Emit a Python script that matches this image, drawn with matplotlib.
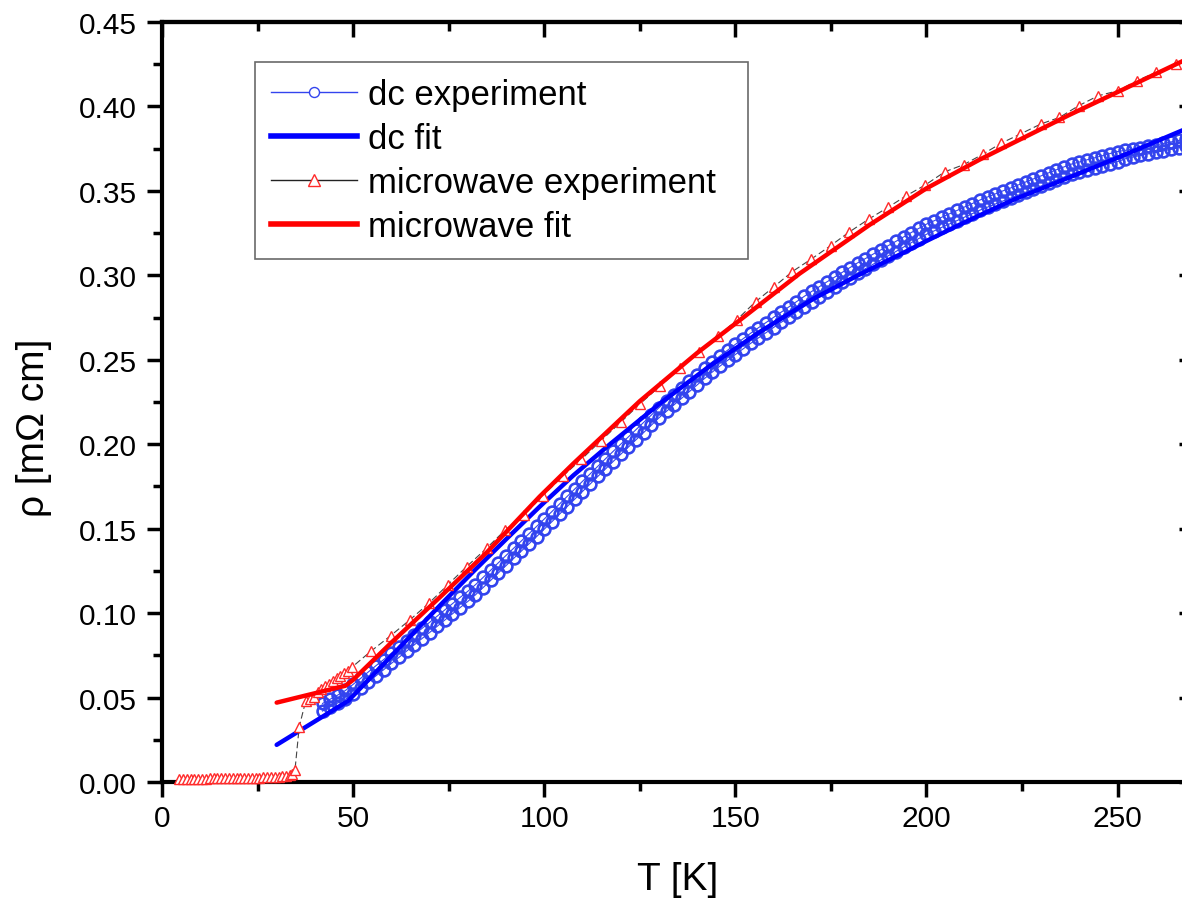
import matplotlib
matplotlib.use('Agg')
import matplotlib.pyplot as plt
from matplotlib.lines import Line2D
from matplotlib.ticker import MultipleLocator

plt.rcParams['font.family'] = ['Liberation Sans', 'DejaVu Sans']

# dc resistivity, two sweeps (mOhm cm)
dc_T = [42, 44, 46, 48, 50, 52, 54, 56, 58, 60, 62, 64, 66, 68, 70, 72, 74, 76, 78, 80,
        82, 84, 86, 88, 90, 92, 94, 96, 98, 100, 102, 104, 106, 108, 110, 112, 114, 116, 118, 120,
        122, 124, 126, 128, 130, 132, 134, 136, 138, 140, 142, 144, 146, 148, 150, 152, 154, 156, 158, 160,
        162, 164, 166, 168, 170, 172, 174, 176, 178, 180, 182, 184, 186, 188, 190, 192, 194, 196, 198, 200,
        202, 204, 206, 208, 210, 212, 214, 216, 218, 220, 222, 224, 226, 228, 230, 232, 234, 236, 238, 240,
        242, 244, 246, 248, 250, 252, 254, 256, 258, 260, 262, 264, 266, 268]
dc_rho_a = [0.0420, 0.0445, 0.0468, 0.0490, 0.0520, 0.0556, 0.0592, 0.0629, 0.0665, 0.0702,
            0.0738, 0.0775, 0.0812, 0.0849, 0.0885, 0.0922, 0.0959, 0.0996, 0.1033, 0.1069,
            0.1108, 0.1151, 0.1194, 0.1238, 0.1281, 0.1324, 0.1367, 0.1410, 0.1453, 0.1497,
            0.1541, 0.1586, 0.1631, 0.1675, 0.1720, 0.1764, 0.1809, 0.1853, 0.1897, 0.1940,
            0.1983, 0.2026, 0.2069, 0.2112, 0.2156, 0.2195, 0.2234, 0.2273, 0.2312, 0.2351,
            0.2390, 0.2428, 0.2463, 0.2497, 0.2531, 0.2564, 0.2597, 0.2629, 0.2660, 0.2691,
            0.2722, 0.2753, 0.2784, 0.2815, 0.2845, 0.2873, 0.2902, 0.2930, 0.2958, 0.2986,
            0.3014, 0.3039, 0.3065, 0.3090, 0.3116, 0.3141, 0.3167, 0.3193, 0.3218, 0.3243,
            0.3263, 0.3284, 0.3304, 0.3324, 0.3345, 0.3365, 0.3386, 0.3404, 0.3422, 0.3440,
            0.3457, 0.3475, 0.3493, 0.3511, 0.3529, 0.3547, 0.3565, 0.3582, 0.3599, 0.3611,
            0.3624, 0.3636, 0.3648, 0.3661, 0.3673, 0.3690, 0.3700, 0.3710, 0.3719, 0.3728,
            0.3737, 0.3746, 0.3755, 0.3763]
dc_rho_b = [0.0465, 0.0490, 0.0515, 0.0542, 0.0578, 0.0614, 0.0652, 0.0689, 0.0725, 0.0762,
            0.0798, 0.0835, 0.0872, 0.0909, 0.0945, 0.0982, 0.1019, 0.1056, 0.1093, 0.1129,
            0.1168, 0.1211, 0.1254, 0.1298, 0.1341, 0.1384, 0.1427, 0.1470, 0.1513, 0.1557,
            0.1601, 0.1646, 0.1691, 0.1735, 0.1780, 0.1824, 0.1869, 0.1913, 0.1957, 0.2000,
            0.2043, 0.2086, 0.2129, 0.2172, 0.2216, 0.2255, 0.2294, 0.2333, 0.2372, 0.2411,
            0.2450, 0.2488, 0.2523, 0.2557, 0.2591, 0.2624, 0.2657, 0.2689, 0.2720, 0.2751,
            0.2782, 0.2813, 0.2844, 0.2875, 0.2905, 0.2933, 0.2962, 0.2990, 0.3018, 0.3046,
            0.3074, 0.3099, 0.3125, 0.3150, 0.3176, 0.3201, 0.3227, 0.3253, 0.3278, 0.3303,
            0.3323, 0.3344, 0.3364, 0.3384, 0.3405, 0.3425, 0.3446, 0.3464, 0.3482, 0.3500,
            0.3517, 0.3535, 0.3553, 0.3571, 0.3589, 0.3607, 0.3625, 0.3642, 0.3659, 0.3671,
            0.3684, 0.3696, 0.3708, 0.3721, 0.3733, 0.3740, 0.3748, 0.3756, 0.3763, 0.3772,
            0.3781, 0.3790, 0.3799, 0.3807]

# dc fit
dcfit_T = [30, 48.7, 60, 72.7, 81.4, 90.1, 98.8, 107.6, 117.2, 130.2, 143.3, 156.4,
           170.3, 182.5, 195, 199.7, 208.7, 213.9, 223, 237.4, 252, 266.7, 270]
dcfit_rho = [0.022, 0.048, 0.0746, 0.1045, 0.1245, 0.1439, 0.1630, 0.1815, 0.2000, 0.2240,
             0.2463, 0.2665, 0.2860, 0.3005, 0.3145, 0.3200, 0.3300, 0.3355, 0.3450, 0.3580,
             0.3715, 0.3856, 0.3885]

# microwave resistivity
mw_T = [4.5, 5.5, 6.5, 7.5, 8.5, 9.5, 10.5, 11.5, 12.5, 13.5, 14.5, 15.5, 16.5, 17.5, 18.5,
        19.5, 20.5, 21.5, 22.5, 23.5, 24.5, 25.5, 26.5, 27.5, 28.5, 29.5, 30.5, 31.5, 32.5,
        33.4, 34.0, 34.8, 35.9, 37.6, 38.7, 39.7, 40.7, 41.7, 42.7, 43.7, 44.7, 45.7, 46.7,
        47.7, 48.7, 49.7, 54.8, 59.8, 64.9, 69.9, 74.7, 79.7, 84.9, 89.8, 94.7, 99.6, 104.8,
        109.7, 114.8, 120.0, 125.0, 130.4, 135.5, 140.5, 145.5, 150.4, 155.3, 160.1, 164.9,
        169.9, 174.9, 179.7, 184.9, 189.9, 194.7, 199.7, 204.8, 209.8, 214.8, 219.6, 224.6,
        229.9, 234.8, 239.8, 244.9, 250.1, 255.1, 260.1, 265.3]
mw_rho = [0.0018, 0.0018, 0.0019, 0.0019, 0.0019, 0.0020, 0.0020, 0.0020, 0.0021, 0.0021,
          0.0021, 0.0022, 0.0022, 0.0022, 0.0023, 0.0023, 0.0023, 0.0024, 0.0024, 0.0025,
          0.0025, 0.0026, 0.0027, 0.0028, 0.0029, 0.0030, 0.0032, 0.0034, 0.0037, 0.0041,
          0.0048, 0.0073, 0.0327, 0.0480, 0.0492, 0.0505, 0.0530, 0.0552, 0.0568, 0.0583,
          0.0598, 0.0613, 0.0628, 0.0643, 0.0660, 0.0680, 0.0777, 0.0866, 0.0961, 0.1060,
          0.1166, 0.1275, 0.1384, 0.1492, 0.1580, 0.1695, 0.1810, 0.1910, 0.2020, 0.2130,
          0.2238, 0.2346, 0.2449, 0.2544, 0.2639, 0.2737, 0.2844, 0.2932, 0.3022, 0.3097,
          0.3175, 0.3255, 0.3333, 0.3402, 0.3471, 0.3535, 0.3613, 0.3656, 0.3718, 0.3783,
          0.3837, 0.3896, 0.3935, 0.4004, 0.4063, 0.4093, 0.4153, 0.4202, 0.4251]

# microwave fit
mwfit_T = [30, 48, 50, 60, 72.7, 85, 98.8, 107.6, 125, 140, 151.2, 166.8, 185.2, 200,
           213.9, 237.4, 250, 266.7, 270]
mwfit_rho = [0.047, 0.057, 0.0605, 0.0825, 0.1094, 0.1360, 0.1690, 0.1885, 0.2255, 0.2540,
             0.2735, 0.3010, 0.3300, 0.3515, 0.3685, 0.3950, 0.4085, 0.4265, 0.4300]

dc_col = '#3344ee'

fig = plt.figure(figsize=(11.82, 9.04), dpi=100)
ax = fig.add_axes([162 / 1182, 121 / 904, 1032 / 1182, 760 / 904])

ax.plot(dc_T, dc_rho_a, color=dc_col, lw=0.8, marker='o', ms=8.5, mfc='none',
        mec=dc_col, mew=1.9, zorder=2)
ax.plot(dc_T, dc_rho_b, color=dc_col, lw=0.8, marker='o', ms=8.5, mfc='none',
        mec=dc_col, mew=1.9, zorder=2)
ax.plot(dcfit_T, dcfit_rho, color='#0000ff', lw=3.2, solid_capstyle='round', zorder=3)
ax.plot(mw_T, mw_rho, color='#444444', lw=0.8, ls=(0, (6, 3)), marker='^', ms=7.5,
        mfc='white', mec='#ff2a2a', mew=1.0, zorder=4, clip_on=False)
ax.plot(mwfit_T, mwfit_rho, color='#ff0000', lw=3.2, solid_capstyle='round', zorder=5)

ax.set_xlim(0, 270)
ax.set_ylim(0, 0.45)
ax.xaxis.set_major_locator(MultipleLocator(50))
ax.xaxis.set_minor_locator(MultipleLocator(25))
ax.yaxis.set_major_locator(MultipleLocator(0.05))
ax.yaxis.set_minor_locator(MultipleLocator(0.025))
ax.yaxis.set_major_formatter(matplotlib.ticker.FormatStrFormatter('%.2f'))

for s in ax.spines.values():
    s.set_linewidth(3)
ax.tick_params(which='major', direction='out', length=11, width=2.5, labelsize=21.5)
ax.tick_params(which='minor', direction='out', length=6.5, width=2.5)
ax.tick_params(axis='x', which='major', pad=5)
ax.tick_params(axis='y', which='major', pad=7)

# mirrored ticks pointing inward on top and right
top = ax.secondary_xaxis('top')
top.xaxis.set_major_locator(MultipleLocator(50))
top.xaxis.set_minor_locator(MultipleLocator(25))
top.tick_params(which='major', direction='in', length=11, width=2.5, labeltop=False)
top.tick_params(which='minor', direction='in', length=6.5, width=2.5)
top.spines['top'].set_linewidth(3)
right = ax.secondary_yaxis('right')
right.yaxis.set_major_locator(MultipleLocator(0.05))
right.yaxis.set_minor_locator(MultipleLocator(0.025))
right.tick_params(which='major', direction='in', length=11, width=2.5, labelright=False)
right.tick_params(which='minor', direction='in', length=6.5, width=2.5)
right.spines['right'].set_linewidth(3)

ax.set_xlabel('T [K]', fontsize=28)
ax.set_ylabel('ρ [mΩ cm]', fontsize=28)
ax.xaxis.set_label_coords(0.5, -0.104)
ax.yaxis.set_label_coords(-0.107, 0.468)

handles = [
    Line2D([], [], color=dc_col, lw=1.0, marker='o', ms=7.2, mfc='white', mec=dc_col, mew=1.0),
    Line2D([], [], color='#0000ff', lw=4),
    Line2D([], [], color='#222222', lw=1.0, marker='^', ms=8, mfc='white', mec='#ff2a2a', mew=1.0),
    Line2D([], [], color='#ff0000', lw=4),
]
labels = ['dc experiment', 'dc fit', 'microwave experiment', 'microwave fit']
leg = ax.legend(handles, labels, loc='upper left', bbox_to_anchor=(0.0901, 0.687, 0.4777, 0.26),
                mode='expand', borderaxespad=0, fontsize=25, handlelength=2.5,
                handletextpad=0.3, labelspacing=0.32, borderpad=0.45, frameon=True,
                fancybox=False, numpoints=1)
leg.get_frame().set_edgecolor('#444444')
leg.get_frame().set_linewidth(1.2)

fig.savefig('out.png', dpi=100)
